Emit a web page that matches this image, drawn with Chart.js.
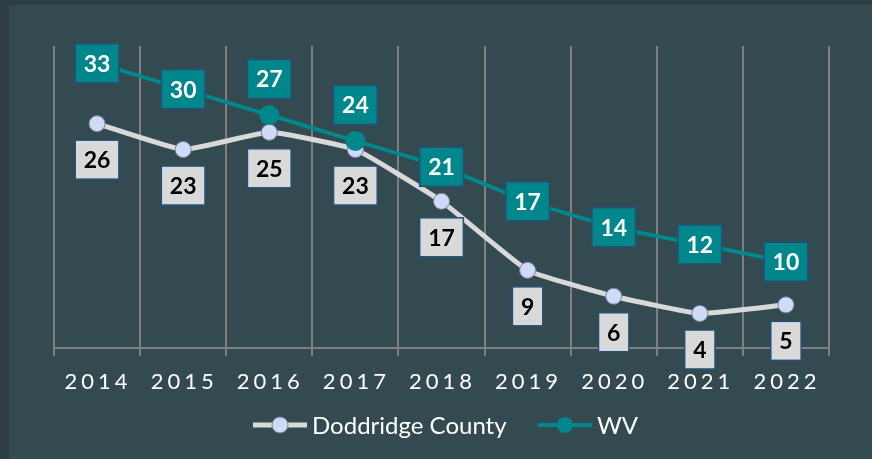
<!DOCTYPE html>
<html>
<head>
<meta charset="utf-8">
<script src="https://cdn.jsdelivr.net/npm/chart.js@4.4.0/dist/chart.umd.min.js"></script>
<style>
html,body{margin:0;padding:0;background:#2c3d43;}
</style>
</head>
<body>
<canvas id="c" width="872" height="459"></canvas>
<script>
var years = ['2014','2015','2016','2017','2018','2019','2020','2021','2022'];
var doddridge = [26,23,25,23,17,9,6,4,5];
var wv = [33,30,27,24,21,17,14,12,10];
var seriesNames = ['Doddridge County','WV'];

// wv labels that sit above the point instead of on it
var wvAbove = {2:true, 3:true};

function box(ctx, text, cx, cy, fill, color){
	ctx.font = 'bold 23px Lato';
	var w = ctx.measureText(text).width + 17, h = 39;
	ctx.fillStyle = fill;
	ctx.fillRect(cx-w/2, cy-h/2, w, h);
	ctx.strokeStyle = '#24507a';
	ctx.lineWidth = 1.5;
	ctx.strokeRect(cx-w/2, cy-h/2, w, h);
	ctx.fillStyle = color;
	ctx.fillText(text, cx, cy+1);
}

var decor = {
	id: 'decor',
	beforeDraw: function(chart){
		var ctx = chart.ctx;
		ctx.save();
		ctx.fillStyle = '#2c3d43';
		ctx.fillRect(0,0,872,459);
		ctx.fillStyle = '#344a51';
		ctx.fillRect(9,5,863,454);
		ctx.restore();
	},
	afterDraw: function(chart){
		var ctx = chart.ctx, xs = chart.scales.x;
		ctx.save();
		//year labels, spaced out
		ctx.font = '22px Lato';
		ctx.fillStyle = '#ffffff';
		ctx.letterSpacing = '4px';
		ctx.textAlign = 'center';
		ctx.textBaseline = 'middle';
		for(var i=0;i<years.length;++i){
			ctx.fillText(years[i], xs.getPixelForTick(i)+1, 382);
		}
		ctx.letterSpacing = '0px';
		//data labels
		var m0 = chart.getDatasetMeta(0), m1 = chart.getDatasetMeta(1);
		for(var j=0;j<years.length;++j){
			var p = m0.data[j];
			box(ctx, String(doddridge[j]), p.x, p.y+36, '#d9d9d9', '#000000');
		}
		for(var k=0;k<years.length;++k){
			var q = m1.data[k];
			box(ctx, String(wv[k]), q.x, wvAbove[k] ? q.y-36 : q.y, '#00878b', '#ffffff');
		}
		//legend
		var ly = 425;
		ctx.lineWidth = 5;
		ctx.strokeStyle = '#d9d9d9';
		ctx.beginPath(); ctx.moveTo(253,ly); ctx.lineTo(307,ly); ctx.stroke();
		ctx.beginPath(); ctx.arc(280,ly,8,0,Math.PI*2);
		ctx.fillStyle = '#cfdbf6'; ctx.fill();
		ctx.lineWidth = 1; ctx.strokeStyle = '#7d80a5'; ctx.stroke();
		ctx.lineWidth = 4;
		ctx.strokeStyle = '#00878b';
		ctx.beginPath(); ctx.moveTo(538,ly); ctx.lineTo(592,ly); ctx.stroke();
		ctx.beginPath(); ctx.arc(565,ly,8,0,Math.PI*2);
		ctx.fillStyle = '#00878b'; ctx.fill();
		ctx.font = '24px Lato';
		ctx.fillStyle = '#ffffff';
		ctx.textAlign = 'left';
		ctx.fillText(seriesNames[0], 312, ly+1);
		ctx.fillText(seriesNames[1], 597, ly+1);
		ctx.restore();
	}
};

new Chart(document.getElementById('c').getContext('2d'), {
	type: 'line',
	data: {
		labels: years,
		datasets: [{
			label: seriesNames[0],
			data: doddridge,
			borderColor: '#d9d9d9',
			borderWidth: 5,
			pointRadius: 8,
			pointBackgroundColor: '#cfdbf6',
			pointBorderColor: '#7d80a5',
			pointBorderWidth: 1,
			tension: 0.12,
			order: 1
		},{
			label: seriesNames[1],
			data: wv,
			borderColor: '#00878b',
			borderWidth: 4,
			pointRadius: 8,
			pointBackgroundColor: '#00878b',
			pointBorderColor: '#00878b',
			tension: 0.12,
			order: 0
		}]
	},
	options: {
		responsive: false,
		animation: false,
		layout: {padding: {left: 54, right: 43, top: 46, bottom: 0}},
		plugins: {legend: {display: false}, tooltip: {enabled: false}},
		scales: {
			x: {
				offset: true,
				grid: {offset: true, color: '#7f7f7f', lineWidth: 2, tickLength: 8, drawTicks: true},
				border: {display: true, color: '#7f7f7f', width: 2},
				ticks: {color: 'rgba(0,0,0,0)', font: {size: 22}},
				afterFit: function(s){ s.height = 111; }
			},
			y: {display: false, min: 0, max: 35}
		}
	},
	plugins: [decor]
});
</script>
</body>
</html>
